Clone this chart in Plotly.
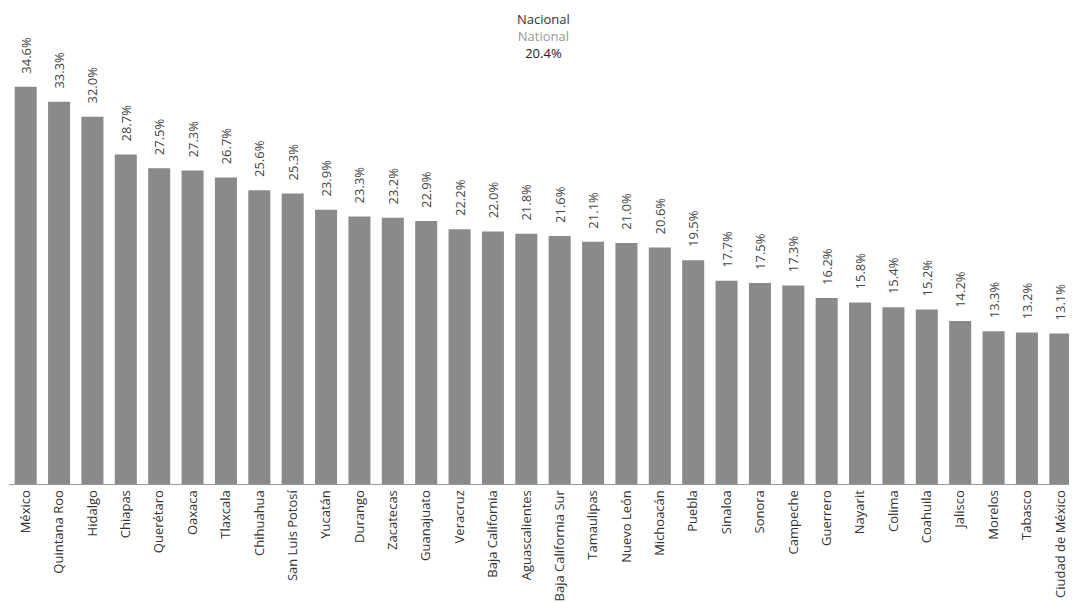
import plotly.graph_objects as go

states = ["México", "Quintana Roo", "Hidalgo", "Chiapas", "Querétaro", "Oaxaca", "Tlaxcala",
          "Chihuahua", "San Luis Potosí", "Yucatán", "Durango", "Zacatecas", "Guanajuato",
          "Veracruz", "Baja California", "Aguascalientes", "Baja California Sur", "Tamaulipas",
          "Nuevo León", "Michoacán", "Puebla", "Sinaloa", "Sonora", "Campeche", "Guerrero",
          "Nayarit", "Colima", "Coahuila", "Jalisco", "Morelos", "Tabasco", "Ciudad de México"]
values = [34.6, 33.3, 32.0, 28.7, 27.5, 27.3, 26.7, 25.6, 25.3, 23.9, 23.3, 23.2, 22.9,
          22.2, 22.0, 21.8, 21.6, 21.1, 21.0, 20.6, 19.5, 17.7, 17.5, 17.3, 16.2, 15.8,
          15.4, 15.2, 14.2, 13.3, 13.2, 13.1]
national = 20.4

fig = go.Figure(go.Bar(
    x=states, y=values,
    marker=dict(color="#8a8a8a", line=dict(width=0)),
    texttemplate="\u00a0\u00a0\u00a0%{y:.1f}%",
    textposition="outside", textangle=-90,
    constraintext="none",
    textfont=dict(family="Open Sans", size=13, color="#444444"),
    cliponaxis=False,
))

fig.update_layout(
    width=1069, height=595,
    margin=dict(l=1, r=0, t=57, b=119, autoexpand=False),
    paper_bgcolor="white", plot_bgcolor="white",
    bargap=0.34, showlegend=False,
    font=dict(family="Open Sans", color="#333333"),
    xaxis=dict(tickangle=-90, tickfont=dict(size=13, color="#333333"), showline=True,
               linecolor="#999999", linewidth=1, ticks="", automargin=False),
    yaxis=dict(range=[0, 36.5], visible=False, showgrid=False),
)
fig.add_annotation(x=0.5, xref="paper", y=1, yref="paper", yanchor="bottom", yshift=1,
                   showarrow=False, align="center",
                   text=f"<span style='color:#333333'>Nacional</span><br><span style='color:#999999'>National</span><br><span style='color:#222222'>{national:.1f}%</span>",
                   font=dict(family="Open Sans", size=13))

fig.write_html("out.html")
